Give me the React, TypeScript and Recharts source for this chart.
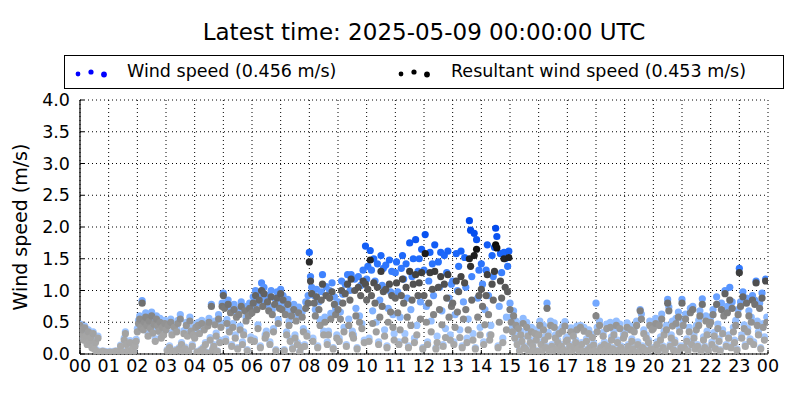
import React from "react";
import {
  ScatterChart,
  Scatter,
  XAxis,
  YAxis,
  CartesianGrid,
  Cell,
  Legend,
} from "recharts";

// Hour tick positions and labels
const hourTicks = [0, 1, 2, 3, 4, 5, 6, 7, 8, 9, 10, 11, 12, 13, 14, 15, 16, 17, 18, 19, 20, 21, 22, 23, 24];
const hourLabels = ["00", "01", "02", "03", "04", "05", "06", "07", "08", "09", "10", "11", "12", "13", "14", "15", "16", "17", "18", "19", "20", "21", "22", "23", "00"];
const speedTicks = [0, 0.5, 1, 1.5, 2, 2.5, 3, 3.5, 4];

// 2.5-minute samples, 24 per hour (one row per hour), m/s
const windSpeed = [
  0.47,0.33,0.40,0.25,0.44,0.31,0.18,0.38,0.23,0.29,0.13,0.35,0.10,0.21,0.06,0.28,0.03,0.04,0.03,0.05,0.03,0.04,0.03,0.03,
  0.03,0.04,0.03,0.03,0.04,0.03,0.05,0.03,0.04,0.03,0.14,0.03,0.04,0.25,0.35,0.18,0.07,0.04,0.21,0.03,0.10,0.04,0.15,0.23,
  0.40,0.53,0.60,0.47,0.84,0.43,0.56,0.65,0.50,0.33,0.58,0.45,0.66,0.38,0.53,0.24,0.60,0.50,0.41,0.56,0.30,0.47,0.35,0.53,
  0.43,0.07,0.50,0.13,0.55,0.34,0.04,0.47,0.07,0.40,0.53,0.10,0.62,0.18,0.03,0.37,0.11,0.50,0.33,0.05,0.58,0.41,0.15,0.35,
  0.30,0.47,0.04,0.50,0.37,0.07,0.53,0.10,0.43,0.18,0.03,0.50,0.56,0.26,0.78,0.08,0.15,0.52,0.33,0.05,0.62,0.22,0.48,0.80,
  0.96,0.80,0.24,0.54,0.85,0.40,0.72,0.15,0.48,0.78,0.30,0.65,0.10,0.70,0.44,0.82,0.19,0.35,0.75,0.58,0.07,0.68,0.80,0.27,
  0.72,0.90,0.24,1.00,0.80,0.46,0.95,0.13,1.12,0.85,1.05,0.30,0.36,0.92,0.76,0.19,1.00,0.70,0.40,0.88,0.07,0.98,0.54,0.80,
  1.02,0.78,0.92,0.07,0.70,0.35,0.86,0.52,0.24,0.68,0.10,0.78,0.30,0.60,0.18,0.74,0.04,0.13,0.66,0.40,0.15,0.82,0.33,0.92,
  1.60,1.22,1.05,0.25,0.92,0.70,1.02,0.13,0.82,0.54,0.98,1.25,0.36,0.58,1.06,0.19,0.36,1.00,0.64,1.12,0.10,0.90,0.72,0.30,
  0.82,0.25,0.66,1.15,0.94,0.42,1.10,0.15,1.25,0.55,1.00,1.25,0.36,0.30,1.18,0.72,0.10,1.22,0.60,1.08,0.48,1.32,0.22,1.70,
  1.18,1.38,0.25,1.63,1.32,0.68,1.50,1.15,0.50,1.42,0.19,0.85,1.55,1.08,1.35,0.38,1.40,0.13,0.72,1.48,0.98,1.30,0.62,0.32,
  1.28,1.45,0.98,0.19,0.58,1.35,1.55,1.18,0.32,1.42,0.88,0.13,1.75,0.70,1.22,1.50,0.25,1.80,0.45,1.30,1.50,0.82,1.65,0.10,
  1.32,1.88,0.75,0.19,1.15,1.60,0.52,1.42,0.92,1.72,0.10,0.28,1.45,1.05,1.60,0.68,0.15,1.55,0.40,1.28,1.62,0.88,0.30,1.10,
  1.15,0.19,0.62,1.58,1.00,1.38,0.38,1.62,0.13,0.82,1.52,1.05,0.25,0.55,2.10,1.95,1.22,0.32,1.90,0.10,1.80,0.88,1.32,0.42,
  1.42,1.10,0.19,0.70,1.32,1.72,0.92,0.30,0.45,1.55,1.22,1.68,1.98,1.85,0.13,0.75,1.58,1.28,0.25,1.60,1.50,0.58,1.38,1.62,
  0.80,0.58,0.42,0.68,0.30,0.52,0.20,0.48,0.07,0.36,0.25,0.56,0.13,0.10,0.50,0.34,0.04,0.22,0.42,0.15,0.07,0.38,0.27,0.05,
  0.36,0.52,0.19,0.07,0.45,0.27,0.13,0.80,0.34,0.04,0.52,0.15,0.07,0.49,0.30,0.10,0.22,0.38,0.05,0.15,0.43,0.08,0.51,0.25,
  0.27,0.04,0.15,0.41,0.07,0.33,0.13,0.22,0.44,0.10,0.03,0.45,0.18,0.05,0.42,0.03,0.24,0.08,0.38,0.13,0.04,0.31,0.17,0.07,
  0.80,0.42,0.07,0.52,0.13,0.04,0.34,0.19,0.08,0.47,0.15,0.03,0.50,0.27,0.10,0.36,0.05,0.52,0.22,0.08,0.47,0.13,0.04,0.31,
  0.36,0.07,0.49,0.15,0.04,0.44,0.24,0.10,0.41,0.03,0.52,0.19,0.05,0.70,0.63,0.13,0.38,0.08,0.30,0.04,0.22,0.52,0.10,0.45,
  0.47,0.10,0.56,0.19,0.05,0.52,0.27,0.63,0.13,0.36,0.07,0.45,0.86,0.74,0.15,0.30,0.52,0.08,0.22,0.56,0.04,0.66,0.41,0.13,
  0.86,0.52,0.13,0.63,0.24,0.07,0.42,0.72,0.19,0.75,0.30,0.10,0.45,0.15,0.53,0.68,0.05,0.87,0.27,0.13,0.60,0.36,0.08,0.54,
  0.58,0.19,0.70,0.34,0.10,0.90,0.47,0.24,0.07,0.80,0.38,0.68,1.00,0.15,0.75,0.30,1.05,0.13,0.82,0.42,0.22,0.53,0.08,0.70,
  1.35,0.82,0.30,0.98,0.46,0.15,0.88,0.40,0.68,0.24,0.58,0.92,0.19,0.85,1.15,0.52,0.35,0.80,0.10,0.96,0.48,0.27,1.18,0.58,
];

const resultantSpeed = [
  0.45,0.30,0.38,0.22,0.41,0.28,0.15,0.35,0.20,0.26,0.10,0.32,0.08,0.18,0.04,0.25,0.02,0.03,0.02,0.04,0.02,0.03,0.02,0.02,
  0.02,0.03,0.02,0.02,0.03,0.02,0.04,0.02,0.03,0.02,0.12,0.02,0.03,0.22,0.32,0.15,0.05,0.03,0.18,0.02,0.08,0.03,0.12,0.20,
  0.35,0.48,0.55,0.42,0.80,0.38,0.50,0.58,0.45,0.28,0.52,0.40,0.60,0.33,0.47,0.20,0.55,0.44,0.36,0.50,0.25,0.42,0.30,0.48,
  0.38,0.05,0.45,0.10,0.50,0.30,0.03,0.42,0.05,0.35,0.48,0.08,0.55,0.15,0.02,0.32,0.08,0.45,0.28,0.04,0.52,0.36,0.12,0.30,
  0.25,0.42,0.03,0.45,0.32,0.05,0.48,0.08,0.38,0.15,0.02,0.44,0.50,0.22,0.75,0.06,0.12,0.46,0.28,0.04,0.55,0.18,0.42,0.75,
  0.92,0.72,0.20,0.48,0.78,0.35,0.65,0.12,0.42,0.70,0.25,0.58,0.08,0.62,0.38,0.75,0.15,0.30,0.68,0.52,0.05,0.60,0.72,0.22,
  0.65,0.80,0.20,0.92,0.70,0.40,0.85,0.10,1.00,0.75,0.95,0.25,0.30,0.82,0.68,0.15,0.90,0.62,0.35,0.78,0.05,0.88,0.48,0.72,
  0.95,0.70,0.85,0.05,0.62,0.30,0.78,0.45,0.20,0.60,0.08,0.70,0.25,0.52,0.15,0.65,0.03,0.10,0.58,0.35,0.12,0.72,0.28,0.80,
  1.45,1.15,0.95,0.20,0.80,0.60,0.90,0.10,0.70,0.45,0.85,1.10,0.30,0.50,0.92,0.15,0.30,0.88,0.55,0.98,0.08,0.78,0.62,0.25,
  0.70,0.20,0.55,1.00,0.80,0.35,0.95,0.12,1.10,0.45,0.85,1.18,0.30,0.25,1.00,0.60,0.08,1.05,0.50,0.92,0.40,1.15,0.18,1.10,
  0.85,1.02,0.20,1.48,0.92,0.48,1.12,0.80,0.35,1.05,0.15,0.58,1.30,0.75,0.98,0.28,1.02,0.10,0.50,1.10,0.66,0.92,0.42,0.22,
  0.88,1.12,0.65,0.15,0.38,0.92,1.18,0.80,0.22,1.05,0.58,0.10,1.30,0.45,0.85,1.10,0.18,1.25,0.30,0.92,1.12,0.55,1.28,0.08,
  0.92,1.58,0.50,0.15,0.80,1.28,0.35,1.02,0.62,1.30,0.08,0.18,1.05,0.70,1.22,0.46,0.12,1.10,0.26,0.88,1.25,0.58,0.22,0.75,
  0.80,0.15,0.42,1.15,0.66,0.98,0.26,1.22,0.10,0.55,1.12,0.70,0.18,0.38,1.50,1.38,0.85,0.22,1.55,0.08,1.65,0.58,0.92,0.30,
  1.02,0.75,0.15,0.46,0.92,1.25,0.62,0.22,0.30,1.10,0.85,1.30,1.72,1.67,0.10,0.50,1.15,0.88,0.18,1.50,1.05,0.38,0.98,1.52,
  0.70,0.50,0.35,0.60,0.25,0.45,0.15,0.40,0.05,0.30,0.20,0.48,0.10,0.08,0.42,0.28,0.03,0.18,0.35,0.12,0.05,0.32,0.22,0.04,
  0.30,0.45,0.15,0.05,0.38,0.22,0.10,0.72,0.28,0.03,0.45,0.12,0.05,0.42,0.25,0.08,0.18,0.32,0.04,0.12,0.36,0.06,0.44,0.20,
  0.22,0.03,0.12,0.35,0.05,0.28,0.10,0.18,0.38,0.08,0.02,0.42,0.15,0.04,0.36,0.02,0.20,0.06,0.32,0.10,0.03,0.26,0.14,0.05,
  0.60,0.35,0.05,0.45,0.10,0.03,0.28,0.15,0.06,0.40,0.12,0.02,0.42,0.22,0.08,0.30,0.04,0.45,0.18,0.06,0.40,0.10,0.03,0.25,
  0.30,0.05,0.42,0.12,0.03,0.38,0.20,0.08,0.35,0.02,0.45,0.15,0.04,0.68,0.55,0.10,0.32,0.06,0.25,0.03,0.18,0.45,0.08,0.38,
  0.40,0.08,0.48,0.15,0.04,0.45,0.22,0.55,0.10,0.30,0.05,0.38,0.80,0.68,0.12,0.25,0.44,0.06,0.18,0.48,0.03,0.58,0.35,0.10,
  0.80,0.45,0.10,0.55,0.20,0.05,0.35,0.65,0.15,0.70,0.25,0.08,0.38,0.12,0.45,0.60,0.04,0.78,0.22,0.10,0.52,0.30,0.06,0.46,
  0.50,0.15,0.62,0.28,0.08,0.78,0.40,0.20,0.05,0.70,0.32,0.60,0.95,0.12,0.65,0.25,0.85,0.10,0.72,0.35,0.18,0.45,0.06,0.62,
  1.28,0.75,0.25,0.90,0.40,0.12,0.80,0.35,0.60,0.20,0.50,0.85,0.15,0.78,1.12,0.45,0.30,0.72,0.08,0.88,0.42,0.22,1.15,0.50,
];

const SAMPLES_PER_HOUR = 24;
const windData = windSpeed.map((v, i) => ({ t: i / SAMPLES_PER_HOUR, v }));
const resultantData = resultantSpeed.map((v, i) => ({ t: i / SAMPLES_PER_HOUR, v }));

// colour maps (value -> colour), like a matplotlib scatter coloured by value
const blueStops: [number, number, number, number][] = [
  [0, 178, 208, 255],
  [0.5, 150, 192, 255],
  [1.0, 92, 152, 255],
  [1.5, 32, 108, 252],
  [2.0, 0, 72, 236],
];
const grayStops: [number, number][] = [
  [0, 172],
  [0.3, 164],
  [0.5, 145],
  [0.8, 112],
  [1.0, 92],
  [1.3, 60],
  [1.5, 36],
  [1.7, 12],
  [2.0, 0],
];

function interpBlue(v: number) {
  if (v <= blueStops[0][0]) return `rgb(${blueStops[0][1]},${blueStops[0][2]},${blueStops[0][3]})`;
  for (let i = 1; i < blueStops.length; i++) {
    const a = blueStops[i - 1];
    const b = blueStops[i];
    if (v <= b[0]) {
      const f = (v - a[0]) / (b[0] - a[0]);
      const r = Math.round(a[1] + (b[1] - a[1]) * f);
      const g = Math.round(a[2] + (b[2] - a[2]) * f);
      const bl = Math.round(a[3] + (b[3] - a[3]) * f);
      return `rgb(${r},${g},${bl})`;
    }
  }
  const l = blueStops[blueStops.length - 1];
  return `rgb(${l[1]},${l[2]},${l[3]})`;
}

function interpGray(v: number) {
  if (v <= grayStops[0][0]) return `rgb(172,172,172)`;
  for (let i = 1; i < grayStops.length; i++) {
    const a = grayStops[i - 1];
    const b = grayStops[i];
    if (v <= b[0]) {
      const f = (v - a[0]) / (b[0] - a[0]);
      const g = Math.round(a[1] + (b[1] - a[1]) * f);
      return `rgb(${g},${g},${g})`;
    }
  }
  return `rgb(0,0,0)`;
}

const FONT = '"DejaVu Sans", sans-serif';

const renderDot = (props: any) => {
  const { cx, cy, fill } = props;
  if (cx == null || cy == null) return <g />;
  return <circle cx={cx} cy={cy} r={3.6} fill={fill} />;
};

const LegendBox = () => (
  <div
    style={{
      width: 720,
      height: 34,
      border: "1px solid #000",
      boxSizing: "border-box",
      background: "#fff",
      position: "relative",
      fontFamily: FONT,
      fontSize: 17.5,
      color: "#000",
    }}
  >
    <svg width={60} height={34} style={{ position: "absolute", left: 0, top: 0 }}>
      <circle cx={13} cy={18} r={2.4} fill="#0000ff" />
      <circle cx={26} cy={16} r={2.6} fill="#0000ff" />
      <circle cx={39} cy={18.5} r={2.9} fill="#0000ff" />
    </svg>
    <span style={{ position: "absolute", left: 62, top: 5, whiteSpace: "nowrap" }}>Wind speed (0.456 m/s)</span>
    <svg width={60} height={34} style={{ position: "absolute", left: 323, top: 0 }}>
      <circle cx={13} cy={18} r={2.4} fill="#000" />
      <circle cx={26} cy={16} r={2.6} fill="#000" />
      <circle cx={39} cy={18.5} r={2.9} fill="#000" />
    </svg>
    <span style={{ position: "absolute", left: 386, top: 5, whiteSpace: "nowrap" }}>Resultant wind speed (0.453 m/s)</span>
  </div>
);

const TICK_IN = -4;

export default function App() {
  return (
    <div style={{ position: "absolute", left: 0, top: 0, width: 800, height: 400, background: "#fff" }}>
      <div
        style={{
          position: "absolute",
          left: 80,
          width: 688,
          top: 19,
          textAlign: "center",
          fontFamily: FONT,
          fontSize: 23,
          color: "#000",
          whiteSpace: "nowrap",
        }}
      >
        Latest time: 2025-05-09 00:00:00 UTC
      </div>
      <ScatterChart
        width={800}
        height={400}
        margin={{ top: 100, right: 32, bottom: 0, left: 0 }}
        style={{ fontFamily: FONT }}
      >
        <CartesianGrid stroke="#000" strokeDasharray="1 3" strokeWidth={1} />
        <XAxis
          type="number"
          dataKey="t"
          domain={[0, 24]}
          ticks={hourTicks}
          tickFormatter={(v: number) => hourLabels[hourTicks.indexOf(v)]}
          interval={0}
          height={46}
          tickSize={TICK_IN}
          tickMargin={10}
          tickLine={{ stroke: "#000" }}
          axisLine={{ stroke: "#000", strokeWidth: 1.2 }}
          tick={{ fill: "#000", fontSize: 17.5, fontFamily: FONT }}
          allowDataOverflow
        />
        <XAxis
          xAxisId="top"
          orientation="top"
          type="number"
          dataKey="t"
          domain={[0, 24]}
          ticks={hourTicks}
          interval={0}
          height={0}
          tick={false}
          tickSize={TICK_IN}
          tickLine={{ stroke: "#000" }}
          axisLine={{ stroke: "#000", strokeWidth: 1.2 }}
        />
        <YAxis
          type="number"
          dataKey="v"
          domain={[0, 4]}
          ticks={speedTicks}
          tickFormatter={(v: number) => v.toFixed(1)}
          interval={0}
          width={80}
          tickSize={TICK_IN}
          tickMargin={14}
          tickLine={{ stroke: "#000" }}
          axisLine={{ stroke: "#000", strokeWidth: 1.2 }}
          tick={{ fill: "#000", fontSize: 17.5, fontFamily: FONT }}
          allowDataOverflow
          label={{
            value: "Wind speed (m/s)",
            angle: -90,
            position: "insideLeft",
            offset: 20,
            style: { textAnchor: "middle", fill: "#000", fontSize: 19, fontFamily: FONT },
          }}
        />
        <YAxis
          yAxisId="right"
          orientation="right"
          type="number"
          dataKey="v"
          domain={[0, 4]}
          ticks={speedTicks}
          interval={0}
          width={0}
          tick={false}
          tickSize={TICK_IN}
          tickLine={{ stroke: "#000" }}
          axisLine={{ stroke: "#000", strokeWidth: 1.2 }}
        />
        <Legend
          layout="horizontal"
          verticalAlign="middle"
          align="center"
          content={() => <LegendBox />}
          wrapperStyle={{ position: "absolute", left: 64, top: 55, width: 720, height: 34 }}
        />
        <Scatter name="Wind speed" data={windData} shape={renderDot} isAnimationActive={false}>
          {windData.map((d, i) => (
            <Cell key={`w${i}`} fill={interpBlue(d.v)} />
          ))}
        </Scatter>
        <Scatter name="Resultant wind speed" data={resultantData} shape={renderDot} isAnimationActive={false}>
          {resultantData.map((d, i) => (
            <Cell key={`r${i}`} fill={interpGray(d.v)} />
          ))}
        </Scatter>
      </ScatterChart>
    </div>
  );
}
